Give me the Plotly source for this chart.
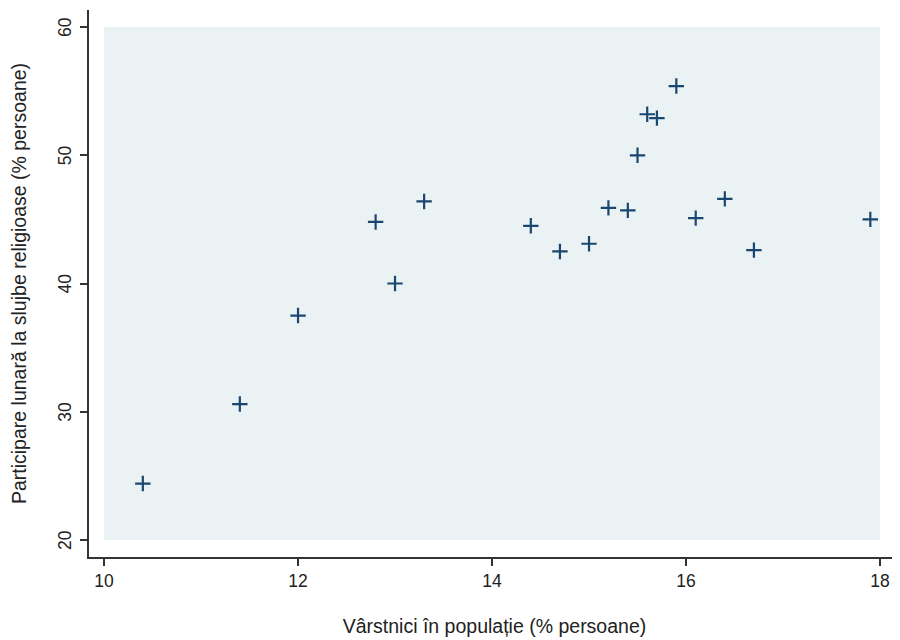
import plotly.graph_objects as go

elderly_pct = [10.4, 11.4, 12.0, 12.8, 13.0, 13.3, 14.4, 14.7, 15.0, 15.2,
               15.4, 15.5, 15.6, 15.7, 15.9, 16.1, 16.4, 16.7, 17.9]
attendance_pct = [24.4, 30.6, 37.5, 44.8, 40.0, 46.4, 44.5, 42.5, 43.1, 45.9,
                  45.7, 50.0, 53.2, 52.9, 55.4, 45.1, 46.6, 42.6, 45.0]
x_ticks = [10, 12, 14, 16, 18]
y_ticks = [20, 30, 40, 50, 60]

navy = "#1a476f"
font = "Liberation Sans, Arial, sans-serif"
tick_size = 17.5
title_size = 19.5

fig = go.Figure()
fig.add_trace(go.Scatter(
    x=elderly_pct, y=attendance_pct, mode="markers",
    marker=dict(symbol="cross-thin", size=11,
                line=dict(width=2.2, color=navy), color=navy),
    hoverinfo="x+y", showlegend=False,
))

fig.add_shape(type="rect", xref="x", yref="y",
              x0=x_ticks[0], x1=x_ticks[-1], y0=y_ticks[0], y1=y_ticks[-1],
              fillcolor="#eaf2f3", line=dict(width=0), layer="below")

# rotated y tick labels (Stata style)
for v in y_ticks:
    fig.add_annotation(x=-0.0296, xref="paper", y=v, yref="y",
                       text=str(v), showarrow=False, textangle=-90,
                       xanchor="center", yanchor="middle",
                       font=dict(size=tick_size, family=font, color="#222"))

fig.update_layout(
    width=892, height=632,
    margin=dict(l=81, r=0, t=2, b=83),
    paper_bgcolor="white", plot_bgcolor="white",
    font=dict(family=font, size=tick_size, color="#222"),
    xaxis=dict(range=[9.845, 18.206], tickvals=x_ticks, showgrid=False,
               zeroline=False, showline=True, linecolor="#333", linewidth=1.5,
               ticks="outside", ticklen=7, tickcolor="#333", tickwidth=1.5,
               automargin=False, ticklabeloverflow="allow",
               tickfont=dict(size=tick_size, family=font, color="#222"),
               title=dict(text="Vârstnici în populație (% persoane)",
                          font=dict(size=title_size, family=font, color="#222"),
                          standoff=30)),
    yaxis=dict(range=[18.67, 61.33], tickvals=y_ticks, showgrid=False,
               zeroline=False, showline=True, linecolor="#333", linewidth=1.5,
               ticks="outside", ticklen=7, tickcolor="#333", tickwidth=1.5,
               showticklabels=False, automargin=False,
               title=dict(text="Participare lunară la slujbe religioase (% persoane)",
                          font=dict(size=title_size, family=font, color="#222"),
                          standoff=55)),
)

fig.write_html("out.html")
